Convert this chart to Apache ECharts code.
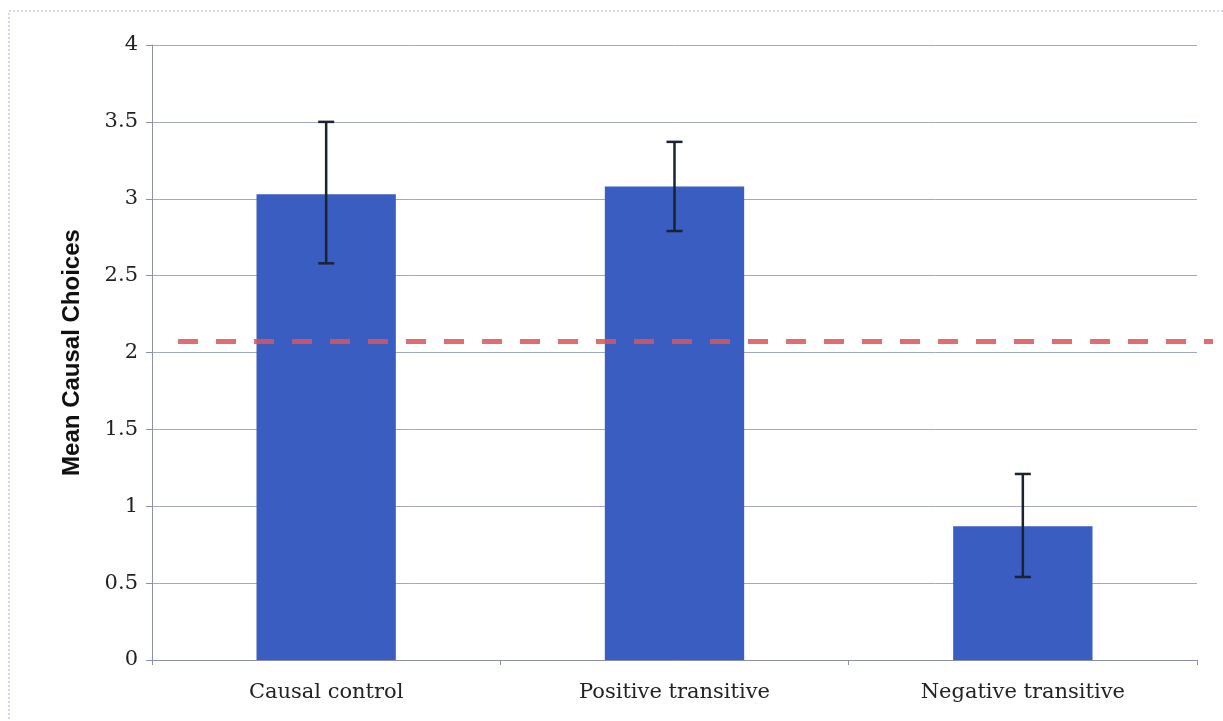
<!DOCTYPE html>
<html>
<head>
    <meta charset="utf-8">
    <title>Mean Causal Choices</title>
    <script src="https://cdn.jsdelivr.net/npm/echarts@6/dist/echarts.min.js"></script>
</head>
<body style="margin:0;background:#fff">
    <div id="main" style="width:1223px;height:721px;"></div>
    <script type="text/javascript">

    // data
    var categories = ['Causal control', 'Positive transitive', 'Negative transitive'];
    var means = [3.03, 3.08, 0.87];
    var errLow = [2.58, 2.79, 0.54];
    var errHigh = [3.50, 3.37, 1.21];
    var chanceLevel = 2.07;
    var yTicks = [0, 0.5, 1, 1.5, 2, 2.5, 3, 3.5, 4];

    var errData = [];
    for (var i = 0; i < categories.length; i++) {
        errData.push([i, errLow[i], errHigh[i]]);
    }

    var myChart = echarts.init(document.getElementById('main'));

    var option = {
        backgroundColor: '#fff',
        animation: false,
        graphic: [{
            type: 'rect',
            shape: { x: 9, y: 11, width: 1230, height: 720 },
            style: { fill: 'none', stroke: '#aab4d8', lineWidth: 1, lineDash: [2, 2] }
        }],
        grid: { left: 152, right: 26, top: 45, bottom: 61 },
        xAxis: {
            type: 'category',
            data: categories,
            axisLine: { lineStyle: { color: '#8e92a8', width: 1 } },
            axisTick: { show: true, length: 5, lineStyle: { color: '#8e92a8' } },
            axisLabel: {
                color: '#222',
                fontFamily: 'DejaVu Serif',
                fontSize: 21,
                margin: 22
            }
        },
        yAxis: {
            type: 'value',
            min: yTicks[0],
            max: yTicks[yTicks.length - 1],
            interval: 0.5,
            name: 'Mean Causal Choices',
            nameLocation: 'middle',
            nameRotate: 90,
            nameGap: 68,
            nameTextStyle: {
                color: '#111',
                fontFamily: 'Liberation Sans',
                fontWeight: 'bold',
                fontSize: 24
            },
            axisLine: { show: true, lineStyle: { color: '#8e92a8', width: 1 } },
            axisTick: { show: true, length: 6, inside: false, lineStyle: { color: '#8e92a8' } },
            splitLine: { lineStyle: { color: '#a4a9c2', width: 1 } },
            axisLabel: {
                color: '#222',
                fontFamily: 'DejaVu Serif',
                fontSize: 21,
                margin: 14
            }
        },
        series: [{
            type: 'bar',
            data: means,
            barWidth: '40%',
            itemStyle: { color: '#3a5dc2' },
            markLine: {
                silent: true,
                symbol: 'none',
                label: { show: false },
                lineStyle: { color: '#d9535a', type: [20, 18], width: 5, opacity: 0.85 },
                data: [[{ x: 178, yAxis: chanceLevel }, { x: 1213, yAxis: chanceLevel }]]
            },
            z: 2
        }, {
            type: 'custom',
            data: errData,
            z: 3,
            renderItem: function (params, api) {
                var idx = api.value(0);
                var lo = api.coord([idx, api.value(1)]);
                var hi = api.coord([idx, api.value(2)]);
                var cap = 8;
                var style = { stroke: '#1b2230', lineWidth: 2.5 };
                return {
                    type: 'group',
                    children: [
                        { type: 'line', shape: { x1: lo[0], y1: lo[1], x2: hi[0], y2: hi[1] }, style: style },
                        { type: 'line', shape: { x1: lo[0] - cap, y1: lo[1], x2: lo[0] + cap, y2: lo[1] }, style: style },
                        { type: 'line', shape: { x1: hi[0] - cap, y1: hi[1], x2: hi[0] + cap, y2: hi[1] }, style: style }
                    ]
                };
            }
        }]
    };

    myChart.setOption(option);
    </script>
</body>
</html>
